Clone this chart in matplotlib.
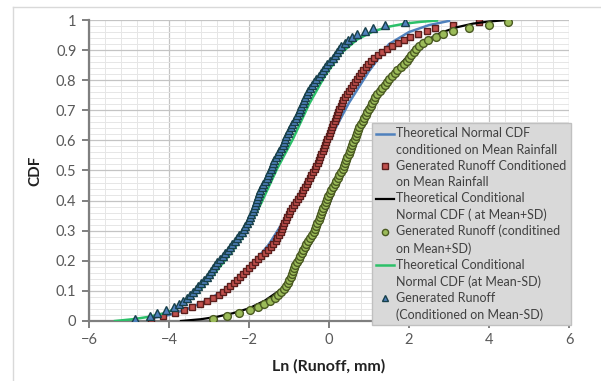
import numpy as np
import matplotlib
matplotlib.use("Agg")
import matplotlib.pyplot as plt
from matplotlib.ticker import MultipleLocator
from matplotlib.lines import Line2D

plt.rcParams['font.family'] = ['Lato', 'DejaVu Sans']

# generated runoff samples (ln mm), sorted -> empirical CDF
runoff_mean = [
    -4.45, -4.14, -3.85, -3.62, -3.42, -3.22, -3.06, -2.90, -2.76, -2.66,
    -2.56, -2.47, -2.38, -2.30, -2.22, -2.16, -2.08, -2.00, -1.93, -1.86,
    -1.78, -1.70, -1.61, -1.53, -1.46, -1.39, -1.33, -1.29, -1.25, -1.21,
    -1.18, -1.15, -1.12, -1.08, -1.05, -1.01, -0.97, -0.93, -0.88, -0.82,
    -0.77, -0.72, -0.68, -0.64, -0.60, -0.56, -0.52, -0.48, -0.44, -0.40,
    -0.36, -0.32, -0.28, -0.25, -0.22, -0.19, -0.16, -0.13, -0.10, -0.07,
    -0.04, -0.01, 0.02, 0.05, 0.08, 0.11, 0.14, 0.17, 0.20, 0.23,
    0.26, 0.29, 0.32, 0.36, 0.40, 0.44, 0.49, 0.54, 0.59, 0.64,
    0.69, 0.74, 0.80, 0.86, 0.92, 0.98, 1.05, 1.13, 1.22, 1.32,
    1.44, 1.57, 1.72, 1.87, 2.03, 2.22, 2.44, 2.66, 3.10, 3.75]

runoff_plus = [
    -2.90, -2.55, -2.25, -1.98, -1.78, -1.62, -1.47, -1.36, -1.27, -1.19,
    -1.13, -1.08, -1.03, -0.99, -0.96, -0.93, -0.90, -0.87, -0.84, -0.80,
    -0.76, -0.72, -0.68, -0.64, -0.60, -0.57, -0.53, -0.48, -0.42, -0.38,
    -0.35, -0.32, -0.29, -0.26, -0.23, -0.20, -0.17, -0.14, -0.11, -0.08,
    -0.05, -0.02, 0.02, 0.06, 0.10, 0.14, 0.18, 0.22, 0.26, 0.30,
    0.34, 0.37, 0.40, 0.43, 0.46, 0.49, 0.52, 0.55, 0.58, 0.61,
    0.64, 0.67, 0.70, 0.73, 0.76, 0.80, 0.84, 0.88, 0.92, 0.96,
    1.00, 1.04, 1.08, 1.12, 1.16, 1.21, 1.27, 1.33, 1.39, 1.45,
    1.51, 1.57, 1.64, 1.71, 1.79, 1.87, 1.94, 2.00, 2.06, 2.12,
    2.18, 2.26, 2.36, 2.48, 2.68, 2.85, 3.10, 3.50, 4.00, 4.47]

runoff_minus = [
    -4.85, -4.47, -4.30, -4.08, -3.88, -3.76, -3.64, -3.56, -3.48, -3.40,
    -3.33, -3.27, -3.19, -3.12, -3.05, -2.99, -2.94, -2.89, -2.84, -2.79,
    -2.73, -2.66, -2.60, -2.53, -2.47, -2.42, -2.36, -2.30, -2.24, -2.18,
    -2.13, -2.09, -2.05, -2.01, -1.97, -1.94, -1.91, -1.88, -1.85, -1.82,
    -1.80, -1.77, -1.75, -1.72, -1.68, -1.64, -1.60, -1.56, -1.52, -1.49,
    -1.46, -1.43, -1.40, -1.37, -1.33, -1.28, -1.24, -1.20, -1.16, -1.13,
    -1.10, -1.07, -1.03, -0.99, -0.96, -0.92, -0.88, -0.83, -0.79, -0.76,
    -0.73, -0.70, -0.66, -0.63, -0.59, -0.56, -0.52, -0.48, -0.42, -0.37,
    -0.32, -0.26, -0.21, -0.16, -0.10, -0.04, 0.02, 0.09, 0.15, 0.20,
    0.25, 0.31, 0.39, 0.47, 0.57, 0.69, 0.90, 1.10, 1.40, 1.90]

# theoretical CDF curves
theo_mean_x = [-4.5, -4.0, -3.5, -3.0, -2.5, -2.0, -1.5, -1.0, -0.5, 0.0, 0.5, 1.0, 1.5, 2.0, 2.5, 3.0]
theo_mean_y = [0.008, 0.02, 0.042, 0.072, 0.112, 0.175, 0.255, 0.36, 0.48, 0.6, 0.725, 0.83, 0.92, 0.96, 0.983, 0.997]

theo_plus_x = [-3.7, -3.2, -2.8, -2.4, -2.0, -1.6, -1.2, -0.8, -0.4, 0.0, 0.4,
               0.8, 1.2, 1.6, 2.0, 2.4, 2.8, 3.2, 3.6, 4.0, 4.47]
theo_plus_y = [0.0, 0.006, 0.014, 0.026, 0.042, 0.068, 0.105, 0.172, 0.27, 0.385, 0.52,
               0.64, 0.745, 0.825, 0.885, 0.93, 0.958, 0.976, 0.988, 0.995, 1.0]

theo_minus_x = [-5.35, -4.9, -4.5, -4.1, -3.7, -3.3, -2.9, -2.5, -2.1, -1.7, -1.3,
                -0.9, -0.5, -0.1, 0.3, 0.7, 1.1, 1.5, 1.9, 2.3, 2.7]
theo_minus_y = [0.0, 0.006, 0.014, 0.026, 0.05, 0.092, 0.152, 0.218, 0.29, 0.39, 0.505,
                0.605, 0.72, 0.815, 0.89, 0.935, 0.962, 0.978, 0.988, 0.994, 0.998]

labels = ["Theoretical Normal CDF\nconditioned on Mean Rainfall",
          "Generated Runoff Conditioned\non Mean Rainfall",
          "Theoretical Conditional\nNormal CDF ( at Mean+SD)",
          "Generated Runoff (conditined\non Mean+SD)",
          "Theoretical Conditional\nNormal CDF (at Mean-SD)",
          "Generated Runoff\n(Conditioned on Mean-SD)"]


def ecdf(vals):
    n = len(vals)
    return np.sort(vals), (np.arange(1, n + 1) - 0.5) / n


W, H = 601, 381
fig = plt.figure(figsize=(W / 100, H / 100), dpi=100)
ax = fig.add_axes([89 / W, 1 - 321 / H, 480 / W, 301 / H])

# chart area border (top/left only visible)
fig.add_artist(Line2D([13 / W, 1], [1 - 7 / H, 1 - 7 / H], color="#d9d9d9", lw=1))
fig.add_artist(Line2D([13 / W, 13 / W], [0, 1 - 7 / H], color="#d9d9d9", lw=1))

ax.plot(theo_mean_x, theo_mean_y, color="#4f81bd", lw=1.8, label=labels[0], zorder=3)
x, y = ecdf(runoff_mean)
ax.plot(x, y, ls="none", marker="s", ms=5.0, mfc="#c0504d", mec="#5a1e1c", mew=1.0,
        label=labels[1], zorder=4)
ax.plot(theo_plus_x, theo_plus_y, color="black", lw=1.6, label=labels[2], zorder=5)
x, y = ecdf(runoff_plus)
ax.plot(x, y, ls="none", marker="o", ms=5.6, mfc="#9bbb59", mec="#4a5a22", mew=1.0,
        label=labels[3], zorder=6)
ax.plot(theo_minus_x, theo_minus_y, color="#2cc069", lw=1.8, label=labels[4], zorder=7)
x, y = ecdf(runoff_minus)
ax.plot(x, y, ls="none", marker="^", ms=5.4, mfc="#4f81bd", mec="#17404a", mew=1.0,
        label=labels[5], zorder=8)

ax.set_xlim(-6, 6)
ax.set_ylim(0, 1)
ax.xaxis.set_major_locator(MultipleLocator(2))
ax.xaxis.set_minor_locator(MultipleLocator(0.4))
ax.yaxis.set_major_locator(MultipleLocator(0.1))
ax.yaxis.set_minor_locator(MultipleLocator(0.02))
ax.yaxis.set_major_formatter(plt.FuncFormatter(lambda v, p: "%g" % round(v, 1)))

ax.grid(which="major", color="#c4c4c4", lw=0.9)
ax.grid(which="minor", color="#e6e6e6", lw=0.7)
ax.set_axisbelow(True)

for s in ["top", "right"]:
    ax.spines[s].set_visible(False)
for s in ["left", "bottom"]:
    ax.spines[s].set_color("#7f7f7f")
    ax.spines[s].set_linewidth(1.6)
ax.tick_params(which="major", direction="out", length=5, width=1.4, color="#7f7f7f",
               labelsize=10.5, labelcolor="#595959", pad=4)
ax.tick_params(which="minor", length=0)

ax.set_xlabel("Ln (Runoff, mm)", fontsize=11.5, fontweight="bold", color="#222222", labelpad=8)
ax.set_ylabel("CDF", fontsize=11, fontweight="bold", color="#222222", labelpad=10)

leg = ax.legend(loc="upper left", bbox_to_anchor=(372 / W, 1 - 123 / H),
                bbox_transform=fig.transFigure, fontsize=9.0, labelspacing=0.3,
                handlelength=1.4, handletextpad=0.2, borderpad=0.35, borderaxespad=0,
                frameon=True, fancybox=False, framealpha=1, markerscale=0.8)
leg.get_frame().set_facecolor("#d9d9d9")
leg.get_frame().set_edgecolor("#c0c0c0")
for t in leg.get_texts():
    t.set_color("#404040")
    t.set_linespacing(1.45)
# put each legend key level with the first text line, like Excel does
for h in leg.findobj(Line2D):
    h.set_ydata(np.asarray(h.get_ydata(), float) + 6.0)
leg.set_zorder(20)

fig.savefig("out.png", dpi=100)
